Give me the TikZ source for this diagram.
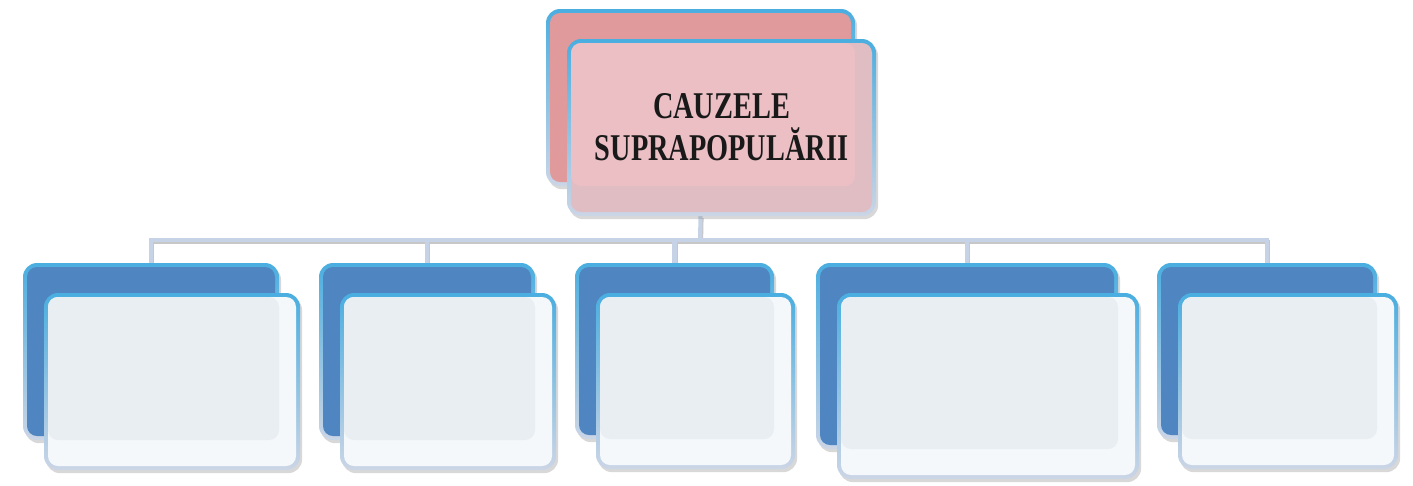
\documentclass[tikz,border=0pt]{standalone}
\usepackage{fontspec}
\newfontfamily\titlefont[FakeStretch=0.75]{Liberation Serif}
\usetikzlibrary{shadows,backgrounds}

\definecolor{edgetop}{HTML}{4AAEE0}
\definecolor{edgebot}{HTML}{CBD5E6}
\definecolor{rosedark}{HTML}{E09A9B}
\definecolor{roseface}{HTML}{EBBFC3}
\definecolor{roseband}{HTML}{E0BDC3}
\definecolor{bluedark}{HTML}{4F86C1}
\definecolor{blueface}{HTML}{E9EEF3}
\definecolor{blueband}{HTML}{F4F8FB}
\definecolor{busline}{HTML}{C6D3E7}

\def\px{0.02cm}
\tikzset{
    cardedge/.style={inner sep=0pt, outer sep=0pt, rounded corners=0.28cm,
        top color=edgetop, bottom color=edgebot,
        drop shadow={shadow xshift=1.2pt, shadow yshift=-1.8pt, opacity=0.3}},
    cardface/.style={inner sep=0pt, outer sep=0pt, rounded corners=0.2cm},
    bus/.style={draw=busline, line width=2.3pt,
        preaction={draw=black!22, line width=2.3pt,
            transform canvas={xshift=0.6pt, yshift=-1.2pt}}},
}
\newcommand\card[6]{%
    \node[cardedge, anchor=north west, minimum width=#4*\px, minimum height=#5*\px] (#1) at (#2,#3) {};
    \node[cardface, fill=#6, minimum width=#4*\px-8*\px, minimum height=#5*\px-8*\px] (#1face) at (#1) {};
}
\newcommand\cardpair[8]{%
    \card{#1}{#2}{#3}{#4}{#5}{#6}
    \card{#1f}{#2+21}{#3+30}{#4}{#5}{#7}
    \fill[#8, rounded corners=0.2cm] ([shift={(4,4)}]#1f.north west) rectangle (#1.south east);
}

\begin{document}
\begin{tikzpicture}[x=0.02cm, y=-0.02cm]
    \useasboundingbox (0,0) rectangle (1413,485);

    \cardpair{t}{546}{9}{309}{177}{rosedark}{roseband}{roseface}
    \cardpair{b1}{23}{263}{256}{177}{bluedark}{blueband}{blueface}
    \cardpair{b2}{319}{263}{216}{177}{bluedark}{blueband}{blueface}
    \cardpair{b3}{575}{263}{199}{176}{bluedark}{blueband}{blueface}
    \cardpair{b4}{816}{263}{302}{186}{bluedark}{blueband}{blueface}
    \cardpair{b5}{1157}{263}{220}{176}{bluedark}{blueband}{blueface}

    \node[text=black!90, align=center,
        font=\titlefont\bfseries\fontsize{21.5}{24}\selectfont] (title) at (tf) {CAUZELE\\SUPRAPOPULĂRII};

    \begin{scope}[on background layer]
        \fill[white] (0,0) rectangle (1413,485);
        \coordinate (hub) at (700,240);
        \draw[bus] (tf.south -| t) -- (hub);
        \draw[bus] (b1.north) -- (b1.north |- hub) -- (b5.north |- hub) -- (b5.north);
        \foreach \i in {2,3,4} {
            \draw[bus] (b\i.north |- hub) -- (b\i.north);
        }
    \end{scope}
\end{tikzpicture}
\end{document}
